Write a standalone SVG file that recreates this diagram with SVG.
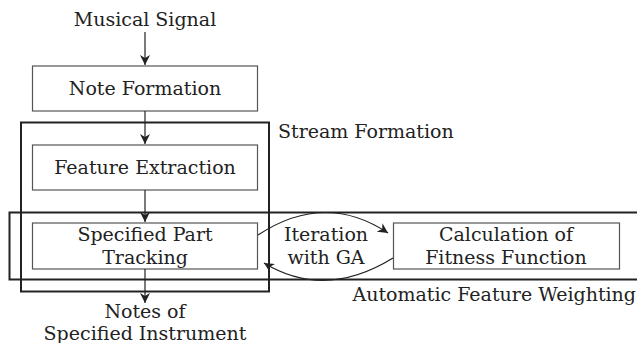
<svg xmlns="http://www.w3.org/2000/svg" width="637" height="343" viewBox="0 0 637 343">
<defs>
<marker id="ah" viewBox="0 0 10 10" refX="10" refY="5" markerWidth="10" markerHeight="10" markerUnits="userSpaceOnUse" orient="auto">
<path d="M0,0 L10,5 L0,10 L3,5 z" fill="#222"/>
</marker>
</defs>
<style>
text{font-family:"DejaVu Serif",serif;font-size:19px;fill:#222;text-anchor:middle}
.box{fill:#fff;stroke:#555;stroke-width:1.2}
.grp{fill:none;stroke:#222;stroke-width:2}
.c{fill:none;stroke:#222;stroke-width:1.2;marker-end:url(#ah)}
</style>
<rect id="g-stream" class="grp" x="21" y="122.5" width="248" height="169"/>
<rect id="g-afw" class="grp" x="9.5" y="212.5" width="640" height="67"/>
<g id="n-signal"><text x="145" y="26">Musical Signal</text></g>
<g id="n-note"><rect class="box" x="32.5" y="66" width="225" height="45"/><text x="145" y="95">Note Formation</text></g>
<g id="n-feat"><rect class="box" x="32.5" y="145" width="225" height="45"/><text x="145" y="174">Feature Extraction</text></g>
<g id="n-track"><rect class="box" x="32.5" y="223" width="225" height="46"/><text x="145" y="241">Specified Part</text><text x="145" y="264">Tracking</text></g>
<g id="n-calc"><rect class="box" x="393.5" y="223" width="226" height="46"/><text x="506" y="241">Calculation of</text><text x="506" y="264">Fitness Function</text></g>
<g id="n-out"><text x="145" y="318">Notes of</text><text x="145" y="340">Specified Instrument</text></g>
<g id="l-iter"><text x="326" y="241">Iteration</text><text x="326" y="264">with GA</text></g>
<g id="l-stream"><text x="278" y="138" style="text-anchor:start">Stream Formation</text></g>
<g id="l-afw"><text x="636" y="301" style="text-anchor:end">Automatic Feature Weighting</text></g>
<g id="connectors">
<path class="c" d="M145,32 L145,65"/>
<path class="c" d="M145,111 L145,144"/>
<path class="c" d="M145,190 L145,222"/>
<path class="c" d="M145,269 L145,303"/>
<path class="c" d="M258,235 Q325,191 388,233"/>
<path class="c" d="M393,258 Q325,300 264,263"/>
</g>
</svg>
